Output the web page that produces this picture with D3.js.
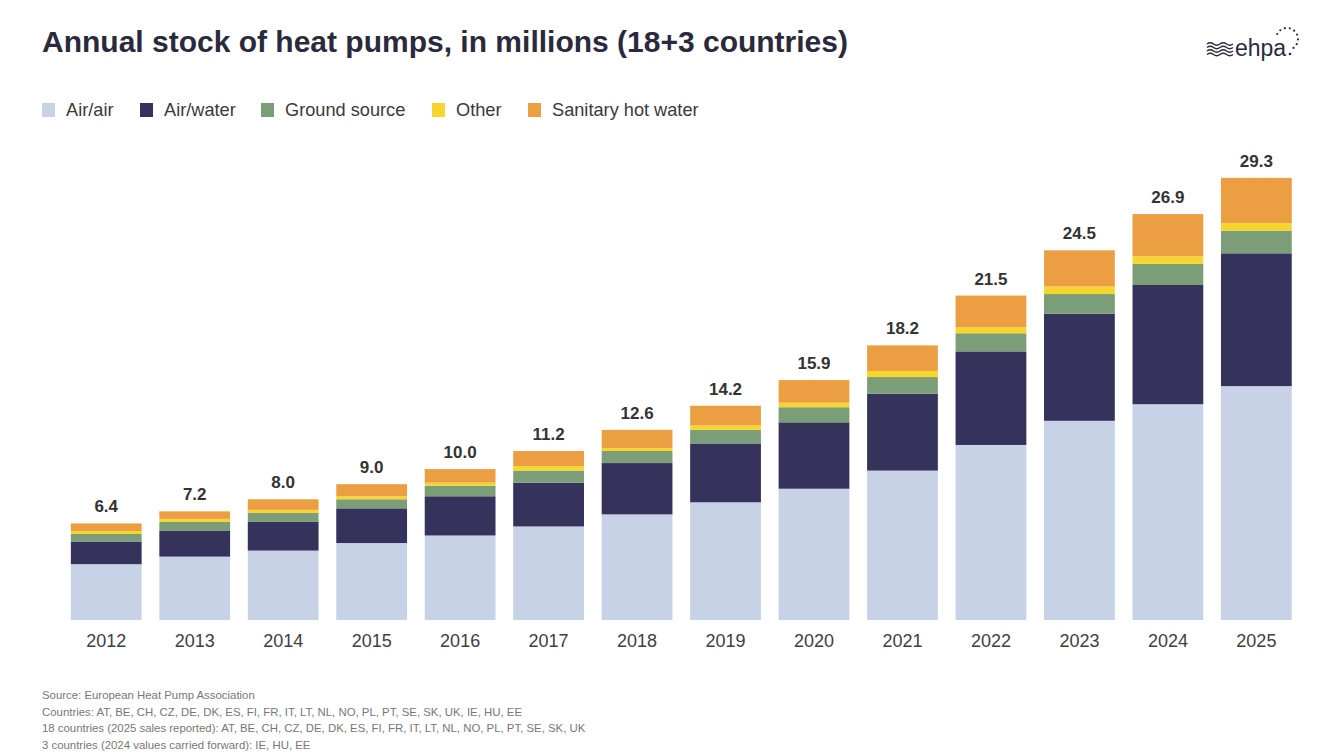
<!DOCTYPE html>
<html>
<head>
<meta charset="utf-8">
<script src="https://cdn.jsdelivr.net/npm/d3@7"></script>
<style>
  body { margin: 0; background: #fff; }
  svg { display: block; font-family: "Liberation Sans", Arial, Helvetica, sans-serif; }
</style>
</head>
<body>
<div id="chart"></div>
<script>
// years on the x axis
var years = ["2012", "2013", "2014", "2015", "2016", "2017", "2018",
             "2019", "2020", "2021", "2022", "2023", "2024", "2025"];

// stock per technology, in millions
var airAir      = [3.7, 4.2, 4.6, 5.1, 5.6, 6.2, 7.0, 7.8, 8.7, 9.9, 11.6, 13.2, 14.3, 15.5];
var airWater    = [1.5, 1.7, 1.9, 2.3, 2.6, 2.9, 3.4, 3.9, 4.4, 5.1, 6.2, 7.1, 7.9, 8.8];
var ground      = [0.5, 0.6, 0.6, 0.6, 0.7, 0.8, 0.8, 0.9, 1.0, 1.1, 1.2, 1.3, 1.4, 1.5];
var other       = [0.2, 0.2, 0.2, 0.2, 0.2, 0.3, 0.2, 0.3, 0.3, 0.4, 0.4, 0.5, 0.5, 0.5];
var sanitary    = [0.5, 0.5, 0.7, 0.8, 0.9, 1.0, 1.2, 1.3, 1.5, 1.7, 2.1, 2.4, 2.8, 3.0];

// totals printed above the bars
var totals = [6.4, 7.2, 8.0, 9.0, 10.0, 11.2, 12.6, 14.2, 15.9, 18.2, 21.5, 24.5, 26.9, 29.3];

var seriesNames = ["Air/air", "Air/water", "Ground source", "Other", "Sanitary hot water"];
var seriesKeys  = ["airAir", "airWater", "ground", "other", "sanitary"];
var colors      = ["#c8d2e7", "#35335c", "#7b9e78", "#f6d52f", "#eb9f42"];

var footnotes = [
  "Source: European Heat Pump Association",
  "Countries: AT, BE, CH, CZ, DE, DK, ES, FI, FR, IT, LT, NL, NO, PL, PT, SE, SK, UK, IE, HU, EE",
  "18 countries (2025 sales reported): AT, BE, CH, CZ, DE, DK, ES, FI, FR, IT, LT, NL, NO, PL, PT, SE, SK, UK",
  "3 countries (2024 values carried forward): IE, HU, EE"
];

// build table for d3.stack
var table = years.map(function(y, i) {
    return {year: y, airAir: airAir[i], airWater: airWater[i], ground: ground[i],
            other: other[i], sanitary: sanitary[i], total: totals[i]};
});

var W = 1332, H = 756;

var svg = d3.select("#chart").append("svg")
    .attr("width", W)
    .attr("height", H);

// title
svg.append("text")
    .attr("x", 42)
    .attr("y", 52)
    .attr("font-size", 30)
    .attr("font-weight", "bold")
    .attr("fill", "#2a2a3c")
    .text("Annual stock of heat pumps, in millions (18+3 countries)");

// logo
var logo = svg.append("g").attr("transform", "translate(1207,44)");
[0, 3.5, 7, 10.5].forEach(function(dy) {
    logo.append("path")
        .attr("d", "M0," + dy + " q3.25,-2.5 6.5,0 t6.5,0 t6.5,0 t6.5,0")
        .attr("fill", "none")
        .attr("stroke", "#2a2a40")
        .attr("stroke-width", 1.4);
});
logo.append("text")
    .attr("x", 28)
    .attr("y", 12)
    .attr("font-size", 23)
    .attr("fill", "#2a2a40")
    .text("ehpa");
logo.append("circle")
    .attr("cx", 83)
    .attr("cy", 10)
    .attr("r", 1.3)
    .attr("fill", "#2a2a40");
d3.range(9).forEach(function(k) {
    var a = -Math.PI * 0.85 + k * (Math.PI * 1.15 / 8);
    logo.append("circle")
        .attr("cx", 80 + 11 * Math.cos(a))
        .attr("cy", -5 + 11 * Math.sin(a))
        .attr("r", 1.1)
        .attr("fill", "#2a2a40");
});

// legend
var legendX = [42, 140, 261, 432, 528];
var legend = svg.append("g");
seriesNames.forEach(function(name, i) {
    legend.append("rect")
        .attr("x", legendX[i])
        .attr("y", 103)
        .attr("width", 13)
        .attr("height", 14)
        .attr("fill", colors[i]);
    legend.append("text")
        .attr("x", legendX[i] + 24)
        .attr("y", 116)
        .attr("font-size", 18.2)
        .attr("fill", "#3a3a3a")
        .text(name);
});

// scales
var x = d3.scaleBand()
    .domain(years)
    .range([62, 1300.6])
    .paddingInner(0.2)
    .paddingOuter(0.1);

var y = d3.scaleLinear()
    .domain([0, 30])
    .range([620, 620 - 15.09 * 30]);

var stack = d3.stack().keys(seriesKeys);
var stacked = stack(table);

// bars
svg.append("g")
    .selectAll("g")
    .data(stacked)
    .join("g")
    .attr("fill", function(d, i) { return colors[i]; })
    .selectAll("rect")
    .data(function(d) { return d; })
    .join("rect")
    .attr("x", function(d) { return x(d.data.year); })
    .attr("y", function(d) { return y(d[1]); })
    .attr("width", x.bandwidth())
    .attr("height", function(d) { return y(d[0]) - y(d[1]); });

// total labels
svg.append("g")
    .selectAll("text")
    .data(table)
    .join("text")
    .attr("x", function(d) { return x(d.year) + x.bandwidth() / 2; })
    .attr("y", function(d) {
        var top = d.airAir + d.airWater + d.ground + d.other + d.sanitary;
        return y(top) - 11;
    })
    .attr("text-anchor", "middle")
    .attr("font-size", 17)
    .attr("font-weight", "bold")
    .attr("fill", "#333")
    .text(function(d) { return d.total.toFixed(1); });

// x axis
var xAxis = svg.append("g")
    .attr("transform", "translate(0,620)")
    .call(d3.axisBottom(x).tickSize(0).tickPadding(14));
xAxis.select(".domain").remove();
xAxis.selectAll("text")
    .attr("font-size", 18)
    .attr("font-family", "Liberation Sans, Arial, sans-serif")
    .attr("fill", "#404040");

// footnotes
svg.append("g")
    .selectAll("text")
    .data(footnotes)
    .join("text")
    .attr("x", 42)
    .attr("y", function(d, i) { return 699 + i * 16.5; })
    .attr("font-size", 11.4)
    .attr("fill", "#777")
    .text(function(d) { return d; });
</script>
</body>
</html>
